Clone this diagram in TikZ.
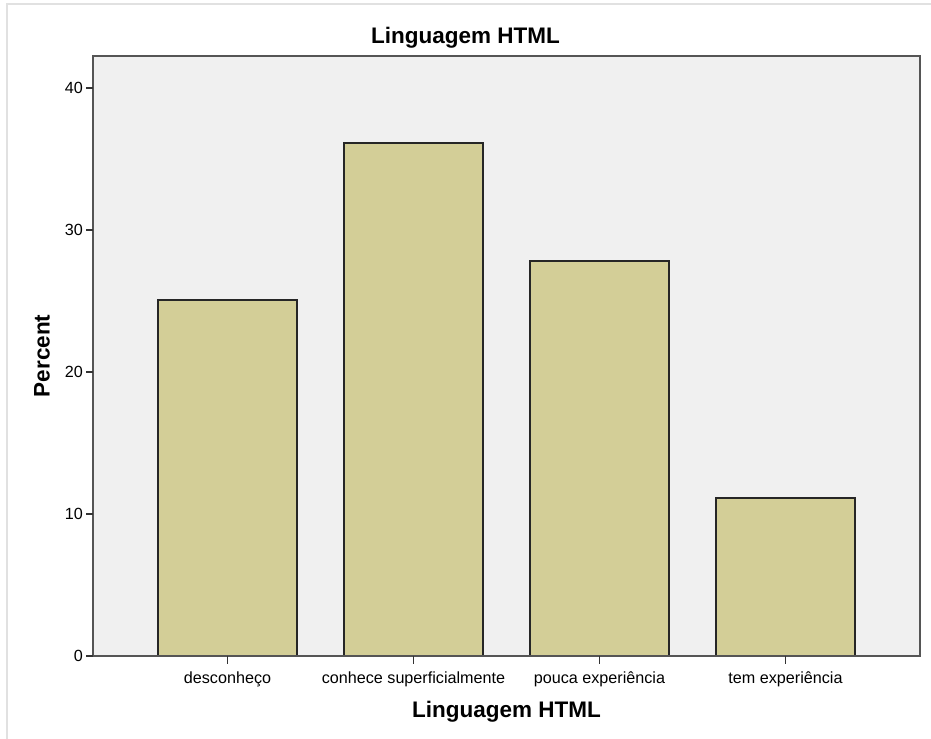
\documentclass[tikz,border=0pt]{standalone}
\usepackage{fontspec}
\setmainfont{Liberation Sans}
\usepackage{tikz}
\usetikzlibrary{positioning}
\definecolor{plotbg}{RGB}{240,240,240}
\definecolor{barfill}{RGB}{211,206,151}
\definecolor{framegray}{RGB}{85,85,85}
\definecolor{outergray}{RGB}{225,225,225}
\tikzstyle{frame}    = [draw=framegray, line width=1.1pt]
\tikzstyle{bar}      = [draw=black!85, line width=0.8pt, fill=barfill]
\tikzstyle{tick}     = [draw=black!80, line width=0.9pt]
\tikzstyle{ticklab}  = [font=\fontsize{9.2}{10}\selectfont, inner sep=1pt]
\tikzstyle{axtitle}  = [font=\fontsize{12.8}{14}\selectfont\bfseries]

\begin{document}
\begin{tikzpicture}[x=0.02cm,y=-0.02cm]
        \useasboundingbox (0,0) rectangle (931,739);
        \draw[outergray, line width=0.6pt] (7,739) -- (7,4) -- (931,4);

        % plot area
        \fill[plotbg] (93,56) rectangle (920,656);

        % bars
        \draw[bar] (158,656) rectangle (297,300);
        \draw[bar] (344,656) rectangle (483,143);
        \draw[bar] (530,656) rectangle (669,261);
        \draw[bar] (716,656) rectangle (855,498);

        \draw[frame] (93,56) rectangle (920,656);

        % y axis
        \draw[tick] (86,656) -- (93,656);
        \draw[tick] (86,514) -- (93,514);
        \draw[tick] (86,372) -- (93,372);
        \draw[tick] (86,230) -- (93,230);
        \draw[tick] (86,88) -- (93,88);
        \node[ticklab, anchor=east] (y0) at (85,656) {0};
        \node[ticklab, anchor=east] (y10) at (85,514) {10};
        \node[ticklab, anchor=east] (y20) at (85,372) {20};
        \node[ticklab, anchor=east] (y30) at (85,230) {30};
        \node[ticklab, anchor=east] (y40) at (85,88) {40};

        % x axis
        \draw[tick] (227.5,656) -- (227.5,664);
        \draw[tick] (413.5,656) -- (413.5,664);
        \draw[tick] (599.5,656) -- (599.5,664);
        \draw[tick] (785.5,656) -- (785.5,664);
        \node[ticklab] (c1) at (227.5,679) {desconheço};
        \node[ticklab] (c2) at (413.5,679) {conhece superficialmente};
        \node[ticklab] (c3) at (599.5,679) {pouca experiência};
        \node[ticklab] (c4) at (785.5,679) {tem experiência};

        % titles
        \node[axtitle] (ttl) at (465.5,38) {Linguagem HTML};
        \node[axtitle] (xlab) at (506.5,712) {Linguagem HTML};
        \node[axtitle, rotate=90] (ylab) at (42,356) {Percent};
    \end{tikzpicture}
\end{document}
